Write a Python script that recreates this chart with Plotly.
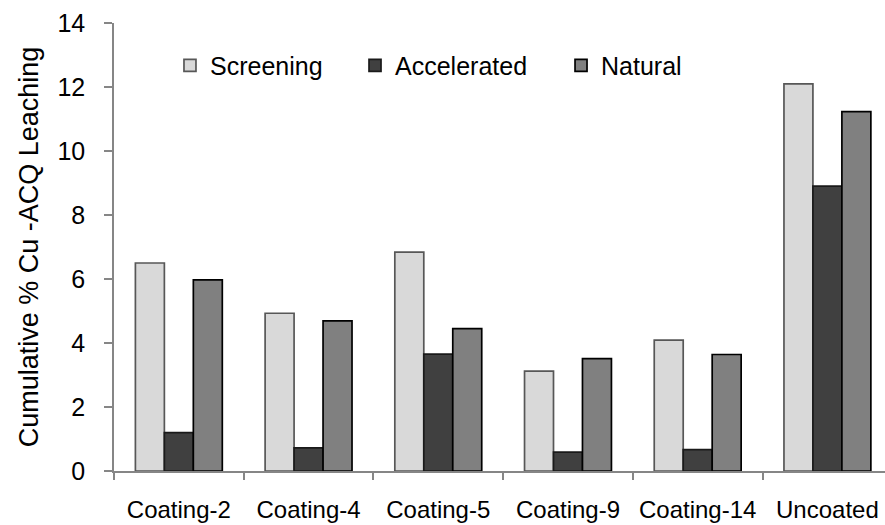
import plotly.graph_objects as go

categories = ["Coating-2", "Coating-4", "Coating-5", "Coating-9", "Coating-14", "Uncoated"]
screening = [6.50, 4.93, 6.84, 3.12, 4.09, 12.10]
accelerated = [1.20, 0.72, 3.65, 0.59, 0.67, 8.90]
natural = [5.97, 4.69, 4.45, 3.51, 3.64, 11.23]

series = [
    ("Screening", screening, "#d9d9d9", "#575757", "legend"),
    ("Accelerated", accelerated, "#404040", "#1a1a1a", "legend2"),
    ("Natural", natural, "#808080", "#000000", "legend3"),
]

FONT = "Liberation Sans, Arial, sans-serif"

fig = go.Figure()
for name, vals, fill, edge, leg in series:
    fig.add_trace(go.Bar(
        x=categories, y=vals, name=name, showlegend=True,
        marker=dict(color=fill, line=dict(color=edge, width=1.7)),
        legend=leg,
    ))

legend_common = dict(
    orientation="h", yanchor="middle", y=0.905, xanchor="left",
    font=dict(family=FONT, size=25, color="#000000"),
    bgcolor="rgba(0,0,0,0)", itemwidth=30,
)

fig.update_layout(
    width=885, height=525,
    margin=dict(l=114, r=0, t=23, b=54),
    paper_bgcolor="white", plot_bgcolor="white",
    barmode="group", bargap=0.33, bargroupgap=0,
    showlegend=True,
    font=dict(family=FONT, color="#000000"),
    legend=dict(x=0.0726, **legend_common),
    legend2=dict(x=0.3126, **legend_common),
    legend3=dict(x=0.5798, **legend_common),
    xaxis=dict(
        type="category", range=[-0.5, 5.444],
        showline=True, linecolor="#868686", linewidth=1.5,
        ticks="outside", tickson="boundaries", ticklen=7,
        tickcolor="#868686", tickwidth=1.5,
        tickfont=dict(family=FONT, size=24, color="#000000"),
        ticklabelstandoff=16,
        showgrid=False, zeroline=False,
    ),
    yaxis=dict(
        range=[0, 14], dtick=2, tick0=0,
        showline=True, linecolor="#868686", linewidth=1.5,
        ticks="outside", ticklen=8, tickcolor="#868686", tickwidth=1.5,
        tickfont=dict(family=FONT, size=25, color="#000000"),
        ticklabelstandoff=14,
        showgrid=False, zeroline=False,
        title=dict(text="Cumulative % Cu -ACQ Leaching",
                   font=dict(family=FONT, size=27, color="#000000"),
                   standoff=11),
    ),
)

fig.write_html("out.html")
